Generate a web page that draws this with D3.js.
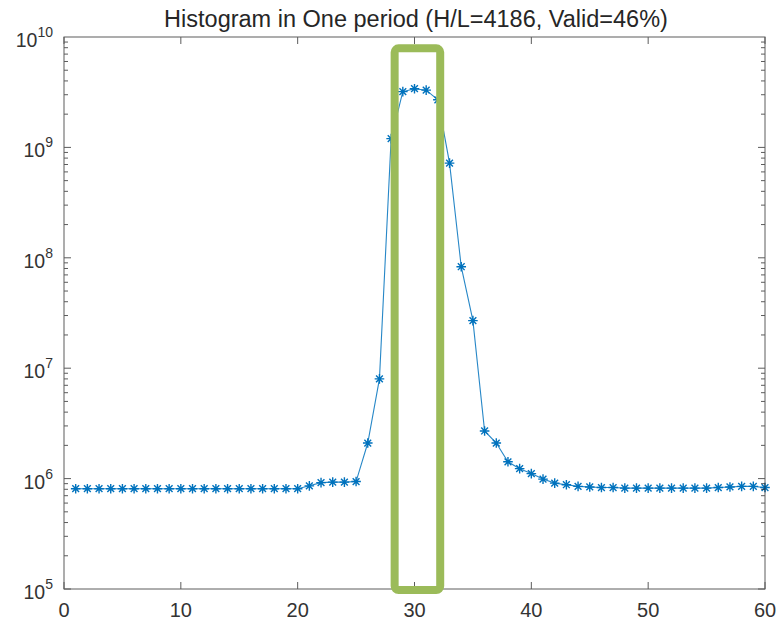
<!DOCTYPE html>
<html><head><meta charset="utf-8">
<script src="https://cdn.jsdelivr.net/npm/d3@7"></script>
<style>body{margin:0;background:#fff}svg{display:block}</style>
</head><body>
<svg id="c" width="778" height="623"></svg>
<script>
const titleText = "Histogram in One period (H/L=4186, Valid=46%)";
const xValues = d3.range(1, 61);
const counts = [
  8.1e5, 8.1e5, 8.1e5, 8.1e5, 8.1e5, 8.1e5, 8.1e5, 8.1e5, 8.1e5, 8.1e5,
  8.1e5, 8.1e5, 8.1e5, 8.1e5, 8.1e5, 8.1e5, 8.1e5, 8.1e5, 8.1e5, 8.1e5,
  8.6e5, 9.2e5, 9.3e5, 9.3e5, 9.4e5, 2.1e6, 8.0e6, 1.2e9, 3.2e9, 3.4e9,
  3.3e9, 2.7e9, 7.2e8, 8.3e7, 2.7e7, 2.7e6, 2.1e6, 1.42e6, 1.23e6, 1.11e6,
  9.9e5, 9.1e5, 8.8e5, 8.5e5, 8.4e5, 8.3e5, 8.3e5, 8.2e5, 8.2e5, 8.2e5,
  8.2e5, 8.2e5, 8.2e5, 8.2e5, 8.2e5, 8.3e5, 8.4e5, 8.5e5, 8.5e5, 8.3e5
];
const xTicks = [0, 10, 20, 30, 40, 50, 60];
const yDecades = [5, 6, 7, 8, 9, 10];
const highlightX = [28.3, 32.2];
const highlightY = [7.9e9, 0.98e5];

const svg = d3.select("#c");
const m = {l: 64, r: 765, t: 37, b: 589};
const x = d3.scaleLinear().domain([0, 60]).range([m.l, m.r]);
const y = d3.scaleLog().domain([1e5, 1e10]).range([m.b, m.t]);
const axisCol = "#262626";
const font = "'Liberation Sans', Arial, sans-serif";

// line + markers
const lineCol = "#0072BD";
const pts = xValues.map((v, i) => [v, counts[i]]);
svg.append("path")
  .attr("d", d3.line().x(d => x(d[0])).y(d => y(d[1]))(pts))
  .attr("fill", "none").attr("stroke", lineCol).attr("stroke-width", 1.1).attr("opacity", 0.85);
const star = (cx, cy, r) => {
  let p = "";
  for (let k = 0; k < 4; k++) {
    const a = k * Math.PI / 4;
    const dx = r * Math.cos(a), dy = r * Math.sin(a);
    p += `M${cx - dx},${cy - dy}L${cx + dx},${cy + dy}`;
  }
  return p;
};
svg.append("g").selectAll("path").data(pts).join("path")
  .attr("d", d => star(x(d[0]), y(d[1]), 4.8))
  .attr("stroke", lineCol).attr("stroke-width", 1.4).attr("fill", "none");

// box
const g = svg.append("g").attr("stroke", axisCol).attr("stroke-width", 1).attr("opacity", 0.75);
g.append("rect").attr("x", m.l).attr("y", m.t).attr("width", m.r - m.l).attr("height", m.b - m.t).attr("fill", "none");
// x ticks
xTicks.forEach(t => {
  g.append("line").attr("x1", x(t)).attr("x2", x(t)).attr("y1", m.b).attr("y2", m.b - 7);
  g.append("line").attr("x1", x(t)).attr("x2", x(t)).attr("y1", m.t).attr("y2", m.t + 7);
});
// y ticks (major + minor)
for (let d = 5; d < 10; d++) {
  for (let k = 1; k < 10; k++) {
    const v = k * Math.pow(10, d);
    const len = k === 1 ? 7 : 4;
    g.append("line").attr("x1", m.l).attr("x2", m.l + len).attr("y1", y(v)).attr("y2", y(v));
    g.append("line").attr("x1", m.r).attr("x2", m.r - len).attr("y1", y(v)).attr("y2", y(v));
  }
}

// x tick labels
svg.append("g").selectAll("text").data(xTicks).join("text")
  .attr("x", d => x(d)).attr("y", m.b + 28).attr("text-anchor", "middle")
  .attr("font-family", font).attr("font-size", 20).attr("fill", "#333").text(d => d);
// y tick labels
const yl = svg.append("g").attr("font-family", font).attr("fill", "#333");
yDecades.forEach(d => {
  const t = yl.append("text").attr("x", m.l - 11).attr("y", y(Math.pow(10, d)) + 10)
    .attr("text-anchor", "end").attr("font-size", 19.5);
  t.append("tspan").text("10");
  t.append("tspan").attr("dy", -10).attr("font-size", 14).text(d);
});

// title
svg.append("text").attr("x", 416).attr("y", 27).attr("text-anchor", "middle")
  .attr("font-family", font).attr("font-size", 23.5).attr("fill", "#262626").text(titleText);

// highlight rectangle
svg.append("rect")
  .attr("x", x(highlightX[0])).attr("y", y(highlightY[0]))
  .attr("width", x(highlightX[1]) - x(highlightX[0]))
  .attr("height", y(highlightY[1]) - y(highlightY[0]))
  .attr("rx", 4).attr("fill", "none").attr("stroke", "#9BBB59").attr("stroke-width", 8);
</script>
</body></html>
